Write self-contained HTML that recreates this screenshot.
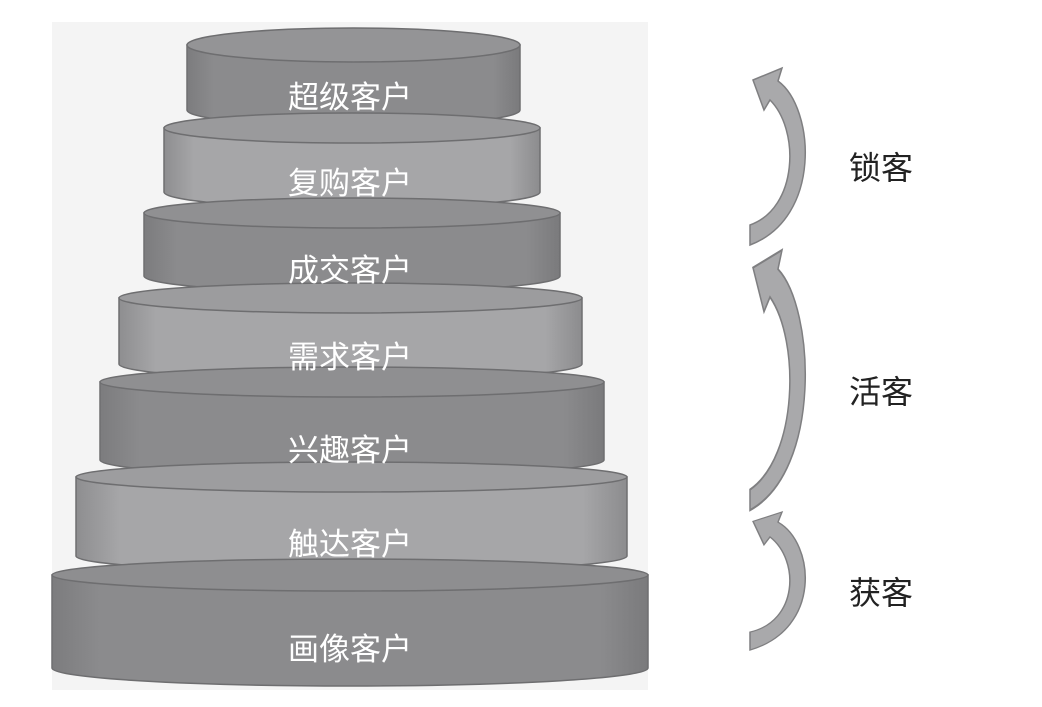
<!DOCTYPE html>
<html><head><meta charset="utf-8"><style>
html,body{margin:0;padding:0;background:#fff;}
svg{display:block;}
text{font-family:"Liberation Sans","Noto Sans CJK SC",sans-serif;}
</style></head><body>
<svg width="1042" height="707" viewBox="0 0 1042 707">
<defs>
<linearGradient id="dk" x1="0" x2="1" y1="0" y2="0">
<stop offset="0" stop-color="#7c7c7e"/><stop offset="0.08" stop-color="#8b8b8d"/><stop offset="0.92" stop-color="#8b8b8d"/><stop offset="1" stop-color="#7a7a7c"/></linearGradient>
<linearGradient id="lt" x1="0" x2="1" y1="0" y2="0">
<stop offset="0" stop-color="#8e8e90"/><stop offset="0.08" stop-color="#a6a6a8"/><stop offset="0.92" stop-color="#a6a6a8"/><stop offset="1" stop-color="#8c8c8e"/></linearGradient>
</defs>
<rect x="52" y="22" width="596" height="668" fill="#f4f4f4"/>
<!-- tiers: x1,x2,top center y, bottom center y -->
<g stroke="#6e6e70" stroke-width="1.5">
<!-- 1 -->
<path d="M187,45 L187,110 A166.5,16 0 0 0 520,110 L520,45 Z" fill="url(#dk)"/>
<ellipse cx="353.5" cy="45" rx="166.5" ry="17" fill="#949496"/>
<!-- 2 -->
<path d="M164,128 L164,192 A188,16 0 0 0 540,192 L540,128 Z" fill="url(#lt)"/>
<ellipse cx="352" cy="128" rx="188" ry="15" fill="#9a9a9c"/>
<!-- 3 -->
<path d="M144,213 L144,276 A208,16 0 0 0 560,276 L560,213 Z" fill="url(#dk)"/>
<ellipse cx="352" cy="213" rx="208" ry="15" fill="#909092"/>
<!-- 4 -->
<path d="M119,298 L119,364 A231.5,16 0 0 0 582,364 L582,298 Z" fill="url(#lt)"/>
<ellipse cx="350.5" cy="298" rx="231.5" ry="15" fill="#9c9c9e"/>
<!-- 5 -->
<path d="M100,382 L100,460 A252,16 0 0 0 604,460 L604,382 Z" fill="url(#dk)"/>
<ellipse cx="352" cy="382" rx="252" ry="15" fill="#8f8f91"/>
<!-- 6 -->
<path d="M76,477 L76,556 A275.5,16 0 0 0 627,556 L627,477 Z" fill="url(#lt)"/>
<ellipse cx="351.5" cy="477" rx="275.5" ry="15" fill="#9d9d9f"/>
<!-- 7 -->
<path d="M52,575 L52,668 A298,18 0 0 0 648,668 L648,575 Z" fill="url(#dk)"/>
<ellipse cx="350" cy="575" rx="298" ry="16" fill="#8e8e90"/>
</g>
<g fill="#fff" font-size="31" text-anchor="middle">
<text x="350" y="108">超级客户</text>
<text x="350" y="194">复购客户</text>
<text x="350" y="281">成交客户</text>
<text x="350" y="368">需求客户</text>
<text x="350" y="461">兴趣客户</text>
<text x="350" y="555">触达客户</text>
<text x="350" y="660">画像客户</text>
</g>
<g fill="#a9a9ab" stroke="#7f7f81" stroke-width="1.5">
<path transform="translate(750,68) scale(1,1)" d="M3,12 L32,0 L28,13 C65,40 72,150 0,177 L0,157 C48,140 50,62 20,32 L14,42 Z"/>
<path transform="translate(750,250) scale(1,1.47)" d="M3,12 L32,0 L28,13 C65,40 72,150 0,177 L0,163 C48,140 50,62 20,32 L14,42 Z"/>
<path transform="translate(750,512) scale(1,0.78)" d="M3,12 L32,0 L28,13 C65,40 72,150 0,177 L0,154 C48,140 50,62 20,32 L14,42 Z"/>
</g>
<g fill="#222" font-size="32">
<text x="849" y="179">锁客</text>
<text x="849" y="403">活客</text>
<text x="849" y="604">获客</text>
</g>
</svg>
</body></html>
